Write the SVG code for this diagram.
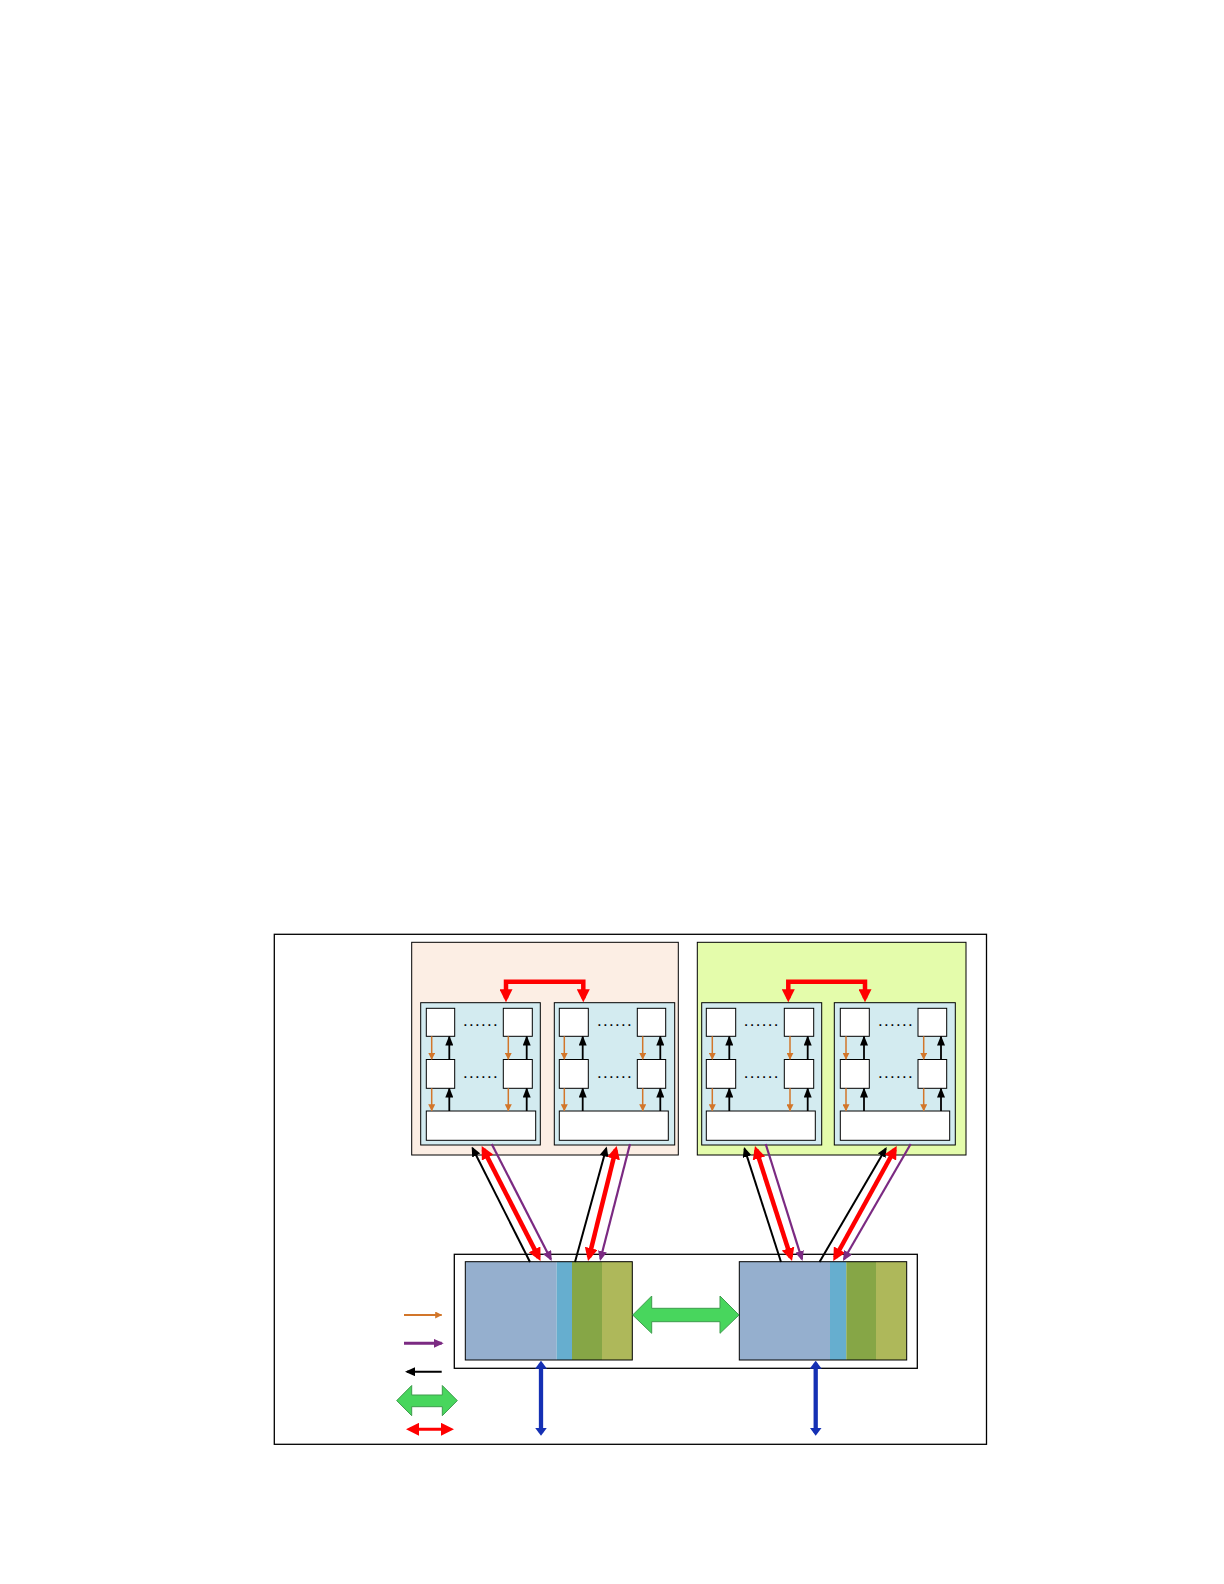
<svg xmlns="http://www.w3.org/2000/svg" width="1224" height="1584" viewBox="0 0 1224 1584">
<defs>
<style>
.frame{fill:#fff;stroke:#000;stroke-width:1.3}
.grp{stroke:#000;stroke-width:1}
.inner{fill:#D3EBF0;stroke:#000;stroke-width:1}
.cell{fill:#fff;stroke:#000;stroke-width:1}
.dots{font-family:"Liberation Sans",Arial,sans-serif;font-size:17px;letter-spacing:1.3px;fill:#000}
.org{stroke:#D2762A;stroke-width:1.5;fill:none;marker-end:url(#mOrg)}
.blk{stroke:#000;stroke-width:1.8;fill:none;marker-end:url(#mBlk)}
.redc{stroke:#FF0000;stroke-width:4.5;fill:none;marker-start:url(#mRed);marker-end:url(#mRed)}
.pur{stroke:#7B2A82;stroke-width:2.2;fill:none;marker-end:url(#mPur)}
.blkc{stroke:#000;stroke-width:2;fill:none;marker-end:url(#mBlkC)}
.blue{stroke:#1530B4;stroke-width:4.3;fill:none;marker-start:url(#mBlue);marker-end:url(#mBlue)}
.gr{fill:#48D65D;stroke:#3E9C4D;stroke-width:1}
</style>
<marker id="mOrg" markerUnits="userSpaceOnUse" viewBox="0 0 7 7" markerWidth="7" markerHeight="7" refX="6.5" refY="3.5" orient="auto-start-reverse"><path d="M0,0 L7,3.5 L0,7 z" fill="#D2762A"/></marker>
<marker id="mBlk" markerUnits="userSpaceOnUse" viewBox="0 0 10 8" markerWidth="10" markerHeight="8" refX="9" refY="4" orient="auto-start-reverse"><path d="M0,0 L10,4 L0,8 z" fill="#000"/></marker>
<marker id="mBlkC" markerUnits="userSpaceOnUse" viewBox="0 0 10 9" markerWidth="10" markerHeight="9" refX="8" refY="4.5" orient="auto-start-reverse"><path d="M0,0 L10,4.5 L0,9 z" fill="#000"/></marker>
<marker id="mPur" markerUnits="userSpaceOnUse" viewBox="0 0 10 9" markerWidth="10" markerHeight="9" refX="8" refY="4.5" orient="auto-start-reverse"><path d="M0,0 L10,4.5 L0,9 z" fill="#7B2A82"/></marker>
<marker id="mRed" markerUnits="userSpaceOnUse" viewBox="0 0 13 13" markerWidth="13" markerHeight="13" refX="9" refY="6.5" orient="auto-start-reverse"><path d="M0,0 L13,6.5 L0,13 z" fill="#FF0000"/></marker>
<marker id="mBlue" markerUnits="userSpaceOnUse" viewBox="0 0 8 12" markerWidth="8" markerHeight="12" refX="5" refY="6" orient="auto-start-reverse"><path d="M0,0 L8,6 L0,12 z" fill="#1530B4"/></marker>
</defs>

<rect id="outer-frame" class="frame" x="274.3" y="934.3" width="712.2" height="510"/>

<g id="group-left">
<rect class="grp" x="411.7" y="942.3" width="266.6" height="212.7" fill="#FCEEE4"/>
</g>
<g id="group-right">
<rect class="grp" x="697.3" y="942.3" width="268.7" height="212.7" fill="#E4FCAB"/>
</g>

<g id="cluster-L1">
<rect class="inner" x="420.7" y="1002.7" width="119.6" height="142.3"/>
<rect class="cell" x="426.3" y="1008.3" width="28.4" height="28"/>
<rect class="cell" x="503.3" y="1008.3" width="29" height="28"/>
<rect class="cell" x="426.3" y="1059.5" width="28.4" height="28.8"/>
<rect class="cell" x="503.3" y="1059.5" width="29" height="28.8"/>
<rect class="cell" x="426.3" y="1111" width="109.4" height="29.3"/>
<text class="dots" x="463" y="1026">......</text>
<text class="dots" x="463" y="1077.7">......</text>
<line class="org" x1="431.7" y1="1036.3" x2="431.7" y2="1059.3"/>
<line class="org" x1="431.7" y1="1088.3" x2="431.7" y2="1110.8"/>
<line class="org" x1="508.3" y1="1036.3" x2="508.3" y2="1059.3"/>
<line class="org" x1="508.3" y1="1088.3" x2="508.3" y2="1110.8"/>
<line class="blk" x1="449.3" y1="1059.5" x2="449.3" y2="1036.5"/>
<line class="blk" x1="449.3" y1="1111" x2="449.3" y2="1088.5"/>
<line class="blk" x1="526.7" y1="1059.5" x2="526.7" y2="1036.5"/>
<line class="blk" x1="526.7" y1="1111" x2="526.7" y2="1088.5"/>
</g>

<g id="cluster-L2">
<rect class="inner" x="554.3" y="1002.7" width="120.4" height="142.3"/>
<rect class="cell" x="559.3" y="1008.3" width="29" height="28"/>
<rect class="cell" x="637.3" y="1008.3" width="28.4" height="28"/>
<rect class="cell" x="559.3" y="1059.5" width="29" height="28.8"/>
<rect class="cell" x="637.3" y="1059.5" width="28.4" height="28.8"/>
<rect class="cell" x="559.3" y="1111" width="109" height="29.3"/>
<text class="dots" x="597" y="1026">......</text>
<text class="dots" x="597" y="1077.7">......</text>
<line class="org" x1="564.3" y1="1036.3" x2="564.3" y2="1059.3"/>
<line class="org" x1="564.3" y1="1088.3" x2="564.3" y2="1110.8"/>
<line class="org" x1="642.7" y1="1036.3" x2="642.7" y2="1059.3"/>
<line class="org" x1="642.7" y1="1088.3" x2="642.7" y2="1110.8"/>
<line class="blk" x1="582.7" y1="1059.5" x2="582.7" y2="1036.5"/>
<line class="blk" x1="582.7" y1="1111" x2="582.7" y2="1088.5"/>
<line class="blk" x1="660.3" y1="1059.5" x2="660.3" y2="1036.5"/>
<line class="blk" x1="660.3" y1="1111" x2="660.3" y2="1088.5"/>
</g>

<g id="cluster-R1">
<rect class="inner" x="701.7" y="1002.7" width="120" height="142.3"/>
<rect class="cell" x="706.3" y="1008.3" width="29.4" height="28"/>
<rect class="cell" x="784.3" y="1008.3" width="29.4" height="28"/>
<rect class="cell" x="706.3" y="1059.5" width="29.4" height="28.8"/>
<rect class="cell" x="784.3" y="1059.5" width="29.4" height="28.8"/>
<rect class="cell" x="706.3" y="1111" width="109" height="29.3"/>
<text class="dots" x="743.7" y="1026">......</text>
<text class="dots" x="743.7" y="1077.7">......</text>
<line class="org" x1="712.3" y1="1036.3" x2="712.3" y2="1059.3"/>
<line class="org" x1="712.3" y1="1088.3" x2="712.3" y2="1110.8"/>
<line class="org" x1="790" y1="1036.3" x2="790" y2="1059.3"/>
<line class="org" x1="790" y1="1088.3" x2="790" y2="1110.8"/>
<line class="blk" x1="729.3" y1="1059.5" x2="729.3" y2="1036.5"/>
<line class="blk" x1="729.3" y1="1111" x2="729.3" y2="1088.5"/>
<line class="blk" x1="807.7" y1="1059.5" x2="807.7" y2="1036.5"/>
<line class="blk" x1="807.7" y1="1111" x2="807.7" y2="1088.5"/>
</g>

<g id="cluster-R2">
<rect class="inner" x="834.3" y="1002.7" width="121" height="142.3"/>
<rect class="cell" x="840.3" y="1008.3" width="29" height="28"/>
<rect class="cell" x="918" y="1008.3" width="28.7" height="28"/>
<rect class="cell" x="840.3" y="1059.5" width="29" height="28.8"/>
<rect class="cell" x="918" y="1059.5" width="28.7" height="28.8"/>
<rect class="cell" x="840.3" y="1111" width="109.4" height="29.3"/>
<text class="dots" x="878" y="1026">......</text>
<text class="dots" x="878" y="1077.7">......</text>
<line class="org" x1="846" y1="1036.3" x2="846" y2="1059.3"/>
<line class="org" x1="846" y1="1088.3" x2="846" y2="1110.8"/>
<line class="org" x1="923.7" y1="1036.3" x2="923.7" y2="1059.3"/>
<line class="org" x1="923.7" y1="1088.3" x2="923.7" y2="1110.8"/>
<line class="blk" x1="864" y1="1059.5" x2="864" y2="1036.5"/>
<line class="blk" x1="864" y1="1111" x2="864" y2="1088.5"/>
<line class="blk" x1="941" y1="1059.5" x2="941" y2="1036.5"/>
<line class="blk" x1="941" y1="1111" x2="941" y2="1088.5"/>
</g>

<g id="lower-box">
<rect class="frame" x="454.3" y="1254.3" width="463" height="114"/>
</g>
<g id="block-left">
<rect x="465.3" y="1261.7" width="91.4" height="98.3" fill="#95AFCE"/>
<rect x="556.7" y="1261.7" width="15.3" height="98.3" fill="#66AECF"/>
<rect x="572" y="1261.7" width="30" height="98.3" fill="#86A646"/>
<rect x="602" y="1261.7" width="30.3" height="98.3" fill="#AEB85A"/>
<rect x="465.3" y="1261.7" width="167" height="98.3" fill="none" stroke="#000" stroke-width="1"/>
</g>
<g id="block-right">
<rect x="739.3" y="1261.7" width="90.7" height="98.3" fill="#95AFCE"/>
<rect x="830" y="1261.7" width="16.3" height="98.3" fill="#66AECF"/>
<rect x="846.3" y="1261.7" width="29.7" height="98.3" fill="#86A646"/>
<rect x="876" y="1261.7" width="30.7" height="98.3" fill="#AEB85A"/>
<rect x="739.3" y="1261.7" width="167.4" height="98.3" fill="none" stroke="#000" stroke-width="1"/>
</g>

<g id="legend">
<line x1="404" y1="1315" x2="441.7" y2="1315" stroke="#D2762A" stroke-width="2" marker-end="url(#mOrg)"/>
<line x1="404" y1="1343.3" x2="441.7" y2="1343.3" stroke="#7B2A82" stroke-width="3" marker-end="url(#mPur)"/>
<line x1="441.7" y1="1371.7" x2="407" y2="1371.7" stroke="#000" stroke-width="2" marker-end="url(#mBlkC)"/>
<polygon class="gr" points="396.7,1400.6 411.7,1385.5 411.7,1395 442.3,1395 442.3,1385.5 457.3,1400.6 442.3,1415.7 442.3,1406.7 411.7,1406.7 411.7,1415.7"/>
<line x1="410" y1="1429.3" x2="450" y2="1429.3" stroke="#FF0000" stroke-width="3" marker-start="url(#mRed)" marker-end="url(#mRed)"/>
</g>

<g id="connectors">
<path class="redc" d="M506,998.3 V981.7 H583.3 V998.3"/>
<path class="redc" d="M788.3,998.3 V981.7 H865 V998.3"/>

<line class="blkc" x1="530" y1="1262" x2="472.6" y2="1148.3"/>
<line class="redc" x1="483.5" y1="1149.6" x2="538.7" y2="1257.4"/>
<line class="pur" x1="491.7" y1="1144" x2="550.8" y2="1259.2"/>

<line class="blkc" x1="575" y1="1262" x2="606.2" y2="1148.4"/>
<line class="redc" x1="615.7" y1="1149.9" x2="589" y2="1257.1"/>
<line class="pur" x1="630" y1="1144" x2="600.5" y2="1259.1"/>

<line class="blkc" x1="781" y1="1262" x2="744.6" y2="1148.9"/>
<line class="redc" x1="756.2" y1="1149.8" x2="790.8" y2="1257.2"/>
<line class="pur" x1="765.7" y1="1144" x2="801.9" y2="1259.1"/>

<line class="blkc" x1="819.5" y1="1262" x2="885.7" y2="1148.7"/>
<line class="redc" x1="894.8" y1="1149.5" x2="835.2" y2="1257.5"/>
<line class="pur" x1="910.7" y1="1144" x2="844" y2="1259.3"/>

<polygon class="gr" points="632.7,1315 651.7,1296 651.7,1308.3 720,1308.3 720,1296 739,1315 720,1333.3 720,1321.7 651.7,1321.7 651.7,1333.3"/>

<line class="blue" x1="541" y1="1363.7" x2="541" y2="1432.7"/>
<line class="blue" x1="815.7" y1="1363.7" x2="815.7" y2="1432.7"/>
</g>
</svg>
